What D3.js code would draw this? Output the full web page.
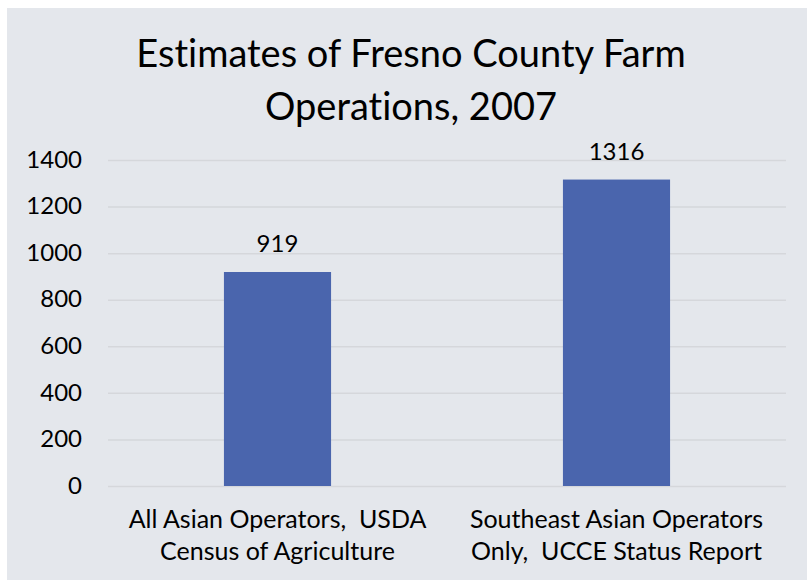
<!DOCTYPE html>
<html>
<head>
<meta charset="utf-8">
<script src="https://cdn.jsdelivr.net/npm/d3@7"></script>
<style>
  html, body { margin: 0; padding: 0; background: #ffffff; }
  svg { display: block; }
  text { font-family: Lato, "Open Sans", sans-serif; fill: #000; font-variant-ligatures: none; }
</style>
</head>
<body>
<svg id="chart" width="807" height="580"></svg>
<script>
// Chart data
const titleLines = ["Estimates of Fresno County Farm", "Operations, 2007"];
const categories = [
  ["All Asian Operators,  USDA", "Census of Agriculture"],
  ["Southeast Asian Operators", "Only,  UCCE Status Report"]
];
const values = [919, 1316];
const yTicks = [0, 200, 400, 600, 800, 1000, 1200, 1400];

const svg = d3.select("#chart");
const W = 807, H = 580;

// Panel background
svg.append("rect")
  .attr("x", 7).attr("y", 8)
  .attr("width", W - 7).attr("height", H - 8)
  .attr("fill", "#e4e7ec");

const plot = { left: 108, right: 786, top: 160, bottom: 486 };

const x = d3.scaleBand()
  .domain(d3.range(values.length))
  .range([plot.left, plot.right])
  .paddingInner(0.684)
  .paddingOuter(0.342);

const y = d3.scaleLinear()
  .domain([0, 1400])
  .range([plot.bottom, plot.top]);

// Title
svg.append("g").selectAll("text")
  .data(titleLines)
  .join("text")
  .attr("x", 411)
  .attr("y", (d, i) => 67 + i * 53)
  .attr("text-anchor", "middle")
  .attr("font-size", 38)
  .text(d => d);

// Gridlines
svg.append("g")
  .attr("transform", `translate(${plot.left},0)`)
  .call(d3.axisLeft(y).tickValues(yTicks).tickSize(-(plot.right - plot.left)).tickFormat(""))
  .call(g => g.select(".domain").remove())
  .call(g => g.selectAll("line").attr("stroke", "#d5d7db").attr("stroke-width", 1.5));

// Y axis labels
svg.append("g")
  .attr("transform", `translate(${plot.left},0)`)
  .call(d3.axisLeft(y).tickValues(yTicks).tickSize(0).tickPadding(26).tickFormat(d3.format("d")))
  .call(g => g.select(".domain").remove())
  .call(g => g.selectAll("text")
    .attr("font-size", 24)
    .attr("font-family", "Lato, sans-serif")
    .attr("fill", "#000")
    .attr("dy", "0.3em"));

// Bars
svg.append("g").selectAll("rect")
  .data(values)
  .join("rect")
  .attr("x", (d, i) => x(i))
  .attr("y", d => y(d))
  .attr("width", x.bandwidth())
  .attr("height", d => y(0) - y(d))
  .attr("fill", "#4a65ad");

// Value labels
svg.append("g").selectAll("text")
  .data(values)
  .join("text")
  .attr("x", (d, i) => x(i) + x.bandwidth() / 2)
  .attr("y", d => y(d) - 20)
  .attr("text-anchor", "middle")
  .attr("font-size", 24)
  .text(d => d);

// Category labels
const catG = svg.append("g").selectAll("text")
  .data(categories)
  .join("text")
  .attr("x", (d, i) => x(i) + x.bandwidth() / 2)
  .attr("y", 528)
  .attr("text-anchor", "middle")
  .attr("font-size", 25)
  .attr("xml:space", "preserve");
catG.selectAll("tspan")
  .data(d => d)
  .join("tspan")
  .attr("x", function () { return d3.select(this.parentNode).attr("x"); })
  .attr("dy", (d, i) => i === 0 ? 0 : 32)
  .text(d => d);
</script>
</body>
</html>
